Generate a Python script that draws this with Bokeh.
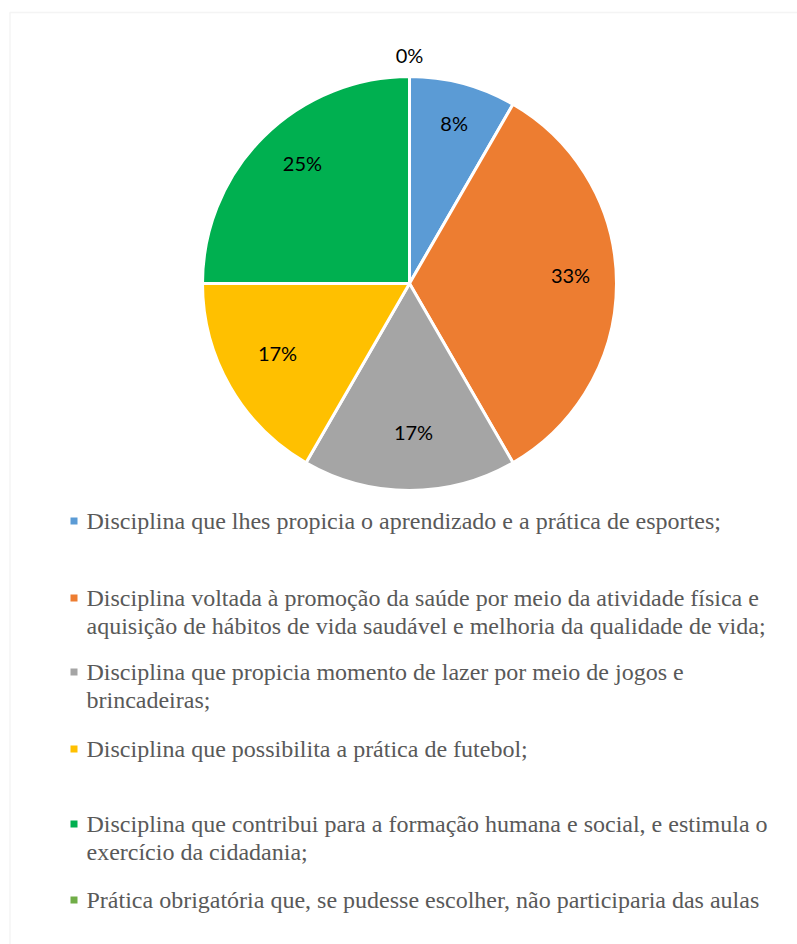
import math
from bokeh.plotting import figure
from bokeh.models import Range1d, BoxAnnotation, ColumnDataSource
from bokeh.core.properties import value
from bokeh.embed import file_html
from bokeh.resources import INLINE

# ---- data ----
categories = [
    "Disciplina que lhes propicia o aprendizado e a prática de esportes;",
    "Disciplina voltada à promoção da saúde por meio da atividade física e\naquisição de hábitos de vida saudável e melhoria da qualidade de vida;",
    "Disciplina que propicia momento de lazer por meio de jogos e\nbrincadeiras;",
    "Disciplina que possibilita a prática de futebol;",
    "Disciplina que contribui para a formação humana e social, e estimula o\nexercício da cidadania;",
    "Prática obrigatória que, se pudesse escolher, não participaria das aulas",
]
counts = [1, 4, 2, 2, 3, 0]
colors = ["#5B9BD5", "#ED7D31", "#A5A5A5", "#FFC000", "#00B050", "#70AD47"]

# ---- layout ----
W, H = 797, 944
def dy(img_y):
    return H - img_y
def dx(img_x):
    return img_x

p = figure(width=W, height=H, output_backend="svg", toolbar_location=None,
           x_range=Range1d(0, W), y_range=Range1d(0, H),
           x_axis_location=None, y_axis_location=None,
           min_border=0, outline_line_color=None)
p.grid.visible = False
p.background_fill_color = "white"

p.add_layout(BoxAnnotation(left=dx(9.5), right=W + 50, bottom=-50, top=dy(12),
                           fill_color=None, line_color="#D9D9D9", line_width=1.5))

cx, cy, R = dx(409), dy(283), 207
total = sum(counts)
starts, ends, lx, ly, ltxt = [], [], [], [], []
cum = 0.0
for c in counts:
    frac = c / total
    a0 = math.pi / 2 - cum * 2 * math.pi
    a1 = math.pi / 2 - (cum + frac) * 2 * math.pi
    starts.append(a0)
    ends.append(a1)
    mid = (a0 + a1) / 2
    if c > 0:
        r, ox, oy = 157, 4, 9
    else:
        r, ox, oy = R + 22, 0, 0
    lx.append(cx + ox + r * math.cos(mid))
    ly.append(cy + oy + r * math.sin(mid))
    ltxt.append(f"{round(frac * 100)}%")
    cum += frac

nz = [i for i, c in enumerate(counts) if c > 0]
src = ColumnDataSource(dict(start=[starts[i] for i in nz], end=[ends[i] for i in nz],
                            color=[colors[i] for i in nz]))
p.wedge(x=cx, y=cy, radius=R, start_angle="start", end_angle="end", direction="clock",
        fill_color="color", line_color="white", line_width=3, source=src)

p.text(x=lx, y=ly, text=ltxt, text_align="center", text_baseline="middle",
       text_font=value("Lato"), text_font_size="20px", text_color="#000000")

# legend
baselines = [529, 606, 680, 757, 832, 908]
line_gap = 28
mx, my, tx, ty, tt = [], [], [], [], []
for i, lab in enumerate(categories):
    b = baselines[i]
    mx.append(dx(73.5))
    my.append(dy(b - 8.5))
    for j, line in enumerate(lab.split("\n")):
        tx.append(dx(86))
        ty.append(dy(b - 8.5 + j * line_gap))
        tt.append(line)
p.rect(x=mx, y=my, width=7, height=7, fill_color=colors, line_color=None)
p.text(x=tx, y=ty, text=tt, text_align="left", text_baseline="middle",
       text_font=value("Liberation Serif"), text_font_size="24px", text_color="#595959")

open("out.html", "w").write(file_html(p, INLINE))
